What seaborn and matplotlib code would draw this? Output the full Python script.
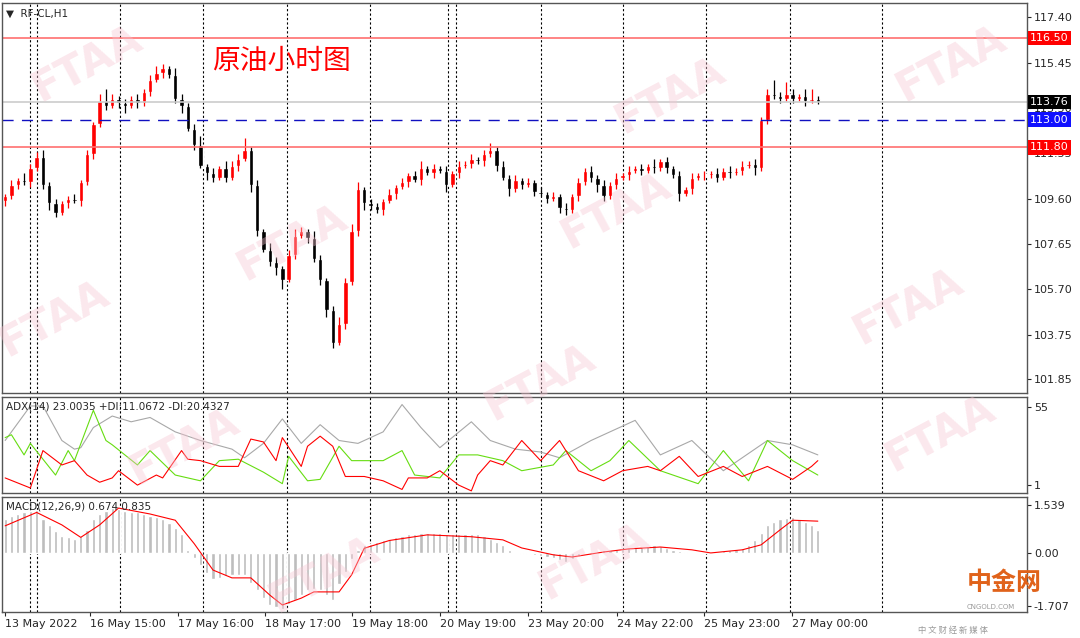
import numpy as np
import pandas as pd
import matplotlib.pyplot as plt
import seaborn as sns

# hourly closes, RF-CL H1
closes = [109.7, 110.2, 110.4, 110.3, 110.9, 111.4, 110.2, 109.4, 109.0, 109.4,
          109.6, 109.5, 110.3, 111.5, 112.8, 113.8, 113.6, 113.9, 113.7, 113.6,
          113.9, 113.7, 114.2, 114.7, 115.0, 115.2, 114.9, 113.9, 113.6, 112.6,
          111.9, 111.0, 110.7, 110.5, 110.9, 110.5, 111.0, 111.3, 111.7, 110.2,
          108.2, 107.4, 106.9, 106.6, 106.1, 107.2, 108.0, 108.2, 107.9, 107.0,
          106.1, 104.8, 103.4, 104.2, 106.0, 108.2, 110.0, 109.4, 109.3, 109.1,
          109.5, 109.8, 110.1, 110.3, 110.6, 110.4, 110.9, 110.7, 110.9, 110.8,
          110.2, 110.7, 111.0, 111.1, 111.3, 111.2, 111.5, 111.7, 111.0, 110.5,
          110.0, 110.4, 110.2, 110.3, 109.9, 109.8, 109.6, 109.7, 109.2, 109.1,
          109.7, 110.3, 110.8, 110.5, 110.2, 109.7, 110.2, 110.5, 110.6, 110.8,
          110.9, 110.8, 111.0, 110.9, 111.2, 110.9, 110.6, 109.8, 110.0, 110.5,
          110.6, 110.6, 110.7, 110.5, 110.8, 110.7, 110.8, 111.0, 111.1, 110.9,
          113.0, 114.1, 114.0, 113.9, 114.1, 113.9, 114.0, 113.8, 113.9, 113.76]
first_open = 109.5
wick_hi = [0.1, 0.2, 0.1, 0.3, 0.2, 0.2, 0.3, 0.1, 0.2, 0.1,
           0.1, 0.2, 0.1, 0.2, 0.1, 0.3, 0.5, 0.2, 0.1, 0.2,
           0.1, 0.2, 0.1, 0.2, 0.3, 0.2, 0.1, 0.3, 0.2, 0.1,
           0.2, 0.4, 0.1, 0.2, 0.1, 0.3, 0.2, 0.2, 0.5, 0.1,
           0.2, 0.1, 0.3, 0.2, 0.1, 0.2, 0.3, 0.2, 0.1, 0.3,
           0.2, 0.1, 0.2, 0.3, 0.2, 0.3, 0.3, 0.1, 0.2, 0.1,
           0.1, 0.2, 0.1, 0.2, 0.1, 0.2, 0.3, 0.1, 0.2, 0.1,
           0.2, 0.1, 0.2, 0.1, 0.2, 0.1, 0.2, 0.3, 0.1, 0.2,
           0.1, 0.2, 0.1, 0.2, 0.1, 0.2, 0.1, 0.2, 0.1, 0.2,
           0.1, 0.2, 0.1, 0.2, 0.1, 0.2, 0.1, 0.2, 0.1, 0.2,
           0.1, 0.2, 0.1, 0.3, 0.1, 0.2, 0.1, 0.2, 0.1, 0.2,
           0.1, 0.2, 0.1, 0.2, 0.1, 0.2, 0.1, 0.2, 0.1, 0.2,
           0.1, 0.2, 0.6, 0.2, 0.5, 0.2, 0.1, 0.3, 0.4, 0.1]
wick_lo = [0.2, 0.1, 0.2, 0.1, 0.2, 0.1, 0.2, 0.3, 0.2, 0.1,
           0.2, 0.1, 0.2, 0.1, 0.2, 0.1, 0.2, 0.1, 0.2, 0.3,
           0.1, 0.2, 0.1, 0.2, 0.1, 0.2, 0.1, 0.2, 0.3, 0.1,
           0.2, 0.1, 0.3, 0.2, 0.1, 0.2, 0.1, 0.2, 0.1, 0.3,
           0.2, 0.1, 0.2, 0.3, 0.4, 0.1, 0.2, 0.1, 0.2, 0.1,
           0.2, 0.3, 0.2, 0.1, 0.2, 0.1, 0.2, 0.3, 0.2, 0.1,
           0.2, 0.1, 0.2, 0.1, 0.2, 0.1, 0.2, 0.1, 0.2, 0.1,
           0.3, 0.1, 0.2, 0.1, 0.2, 0.1, 0.2, 0.1, 0.2, 0.1,
           0.3, 0.1, 0.2, 0.1, 0.2, 0.1, 0.2, 0.1, 0.2, 0.2,
           0.1, 0.2, 0.1, 0.2, 0.3, 0.2, 0.1, 0.2, 0.1, 0.2,
           0.1, 0.2, 0.1, 0.2, 0.1, 0.2, 0.1, 0.3, 0.1, 0.2,
           0.1, 0.2, 0.1, 0.2, 0.1, 0.2, 0.1, 0.2, 0.1, 0.3,
           0.1, 0.2, 0.1, 0.2, 0.1, 0.2, 0.1, 0.2, 0.1, 0.1]

macd_hist = [1.10, 1.20, 1.25, 1.30, 1.35, 1.38, 1.10, 0.90, 0.70, 0.55,
             0.50, 0.45, 0.55, 0.75, 1.10, 1.25, 1.35, 1.45, 1.40, 1.35,
             1.32, 1.30, 1.25, 1.20, 1.15, 1.10, 0.95, 0.80, 0.60, 0.10,
             -0.15, -0.40, -0.65, -0.85, -0.80, -0.75, -0.70, -0.70, -0.70, -0.95,
             -1.20, -1.45, -1.67, -1.75, -1.80, -1.65, -1.50, -1.35, -1.20, -1.15,
             -1.20, -1.35, -1.50, -1.00, -0.60, -0.20, 0.10, 0.25, 0.30, 0.35,
             0.40, 0.45, 0.50, 0.55, 0.60, 0.62, 0.64, 0.65, 0.65, 0.63,
             0.62, 0.60, 0.60, 0.61, 0.60, 0.60, 0.55, 0.45, 0.35, 0.25,
             0.10, 0.00, -0.02, -0.05, -0.08, -0.10, -0.12, -0.15, -0.22, -0.30,
             -0.20, -0.10, -0.05, 0.00, 0.05, 0.08, 0.10, 0.12, 0.14, 0.15,
             0.18, 0.20, 0.22, 0.25, 0.22, 0.15, 0.10, 0.06, 0.03, 0.01,
             0.00, 0.02, 0.03, 0.04, 0.05, 0.08, 0.12, 0.15, 0.25, 0.40,
             0.65, 0.90, 1.00, 1.10, 1.12, 1.15, 1.10, 1.00, 0.90, 0.75]
sig_bar = [0, 5, 9, 12, 15, 18, 23, 27, 30, 33, 36, 39, 42, 44, 47, 49, 53, 55, 57, 61,
           67, 74, 79, 82, 87, 90, 95, 99, 104, 109, 112, 117, 120, 123, 125, 129]
sig_val = [0.87, 1.3, 0.9, 0.5, 0.9, 1.44, 1.25, 1.05, 0.3, -0.55, -0.8, -0.8, -1.35, -1.67,
           -1.45, -1.25, -1.25, -0.7, 0.15, 0.4, 0.58, 0.52, 0.42, 0.16, -0.06, -0.13, 0.03,
           0.13, 0.19, 0.1, 0.0, 0.1, 0.26, 0.74, 1.05, 1.02]

adx_bar = [0, 4, 6, 9, 11, 12, 14, 17, 20, 23, 27, 31, 36, 38, 41, 44, 47, 50, 53, 56,
           60, 63, 66, 69, 74, 77, 81, 85, 88, 93, 100, 104, 109, 114, 121, 125, 129]
adx_val = [32, 56, 56, 32, 26, 27, 41, 49, 45, 48, 38, 32, 26, 20, 30, 47, 30, 43, 32, 30,
           38, 57, 41, 27, 45, 32, 26, 24, 20, 32, 46, 22, 32, 11, 32, 29, 22]
pdi_bar = [0, 1, 3, 4, 6, 8, 10, 11, 14, 16, 17, 21, 23, 27, 31, 34, 37, 41, 44, 45, 48, 50,
           53, 55, 60, 63, 65, 69, 72, 75, 79, 82, 87, 89, 93, 96, 99, 104, 110, 114, 118,
           121, 125, 129]
pdi_val = [34, 36, 22, 30, 19, 8, 25, 18, 53, 32, 29, 15, 25, 8, 4, 18, 19, 10, 2, 21, 4, 5,
           28, 18, 18, 25, 8, 6, 22, 22, 18, 11, 15, 25, 11, 18, 32, 11, 2, 25, 4, 32, 18, 8]
mdi_bar = [0, 4, 6, 9, 11, 13, 15, 17, 18, 21, 24, 25, 28, 29, 31, 34, 37, 39, 41, 43, 44,
           47, 48, 50, 52, 54, 57, 60, 63, 64, 67, 69, 72, 74, 75, 77, 79, 82, 85, 88, 91,
           95, 98, 102, 104, 107, 110, 114, 117, 121, 125, 128, 129]
mdi_val = [6, -1, 25, 15, 18, 8, 3, 6, 11, 1, 8, 6, 25, 19, 18, 14, 14, 33, 31, 18, 34, 14,
           28, 35, 28, 7, 7, 4, -2, 6, 6, 11, 1, -3, 8, 18, 15, 32, 18, 32, 11, 4, 11, 14, 11,
           21, 7, 14, 7, 14, 5, 14, 18]

time_labels = ["13 May 2022", "16 May 15:00", "17 May 16:00", "18 May 17:00", "19 May 18:00",
               "20 May 19:00", "23 May 20:00", "24 May 22:00", "25 May 23:00", "27 May 00:00"]
time_label_bar = [0, 13.5, 27.5, 41.3, 55.1, 69, 83, 97.1, 111, 124.9]
sep_bar = [4.0, 5.1, 18.3, 31.4, 44.8, 57.9, 70.3, 71.6, 85.0, 98.1, 111.3, 124.6, 139.2]
price_ticks = [117.40, 115.45, 113.50, 111.55, 109.60, 107.65, 105.70, 103.75, 101.85]

sns.set_style("white")
plt.rcParams['font.family'] = ['Noto Sans CJK SC', 'DejaVu Sans']

fig = plt.figure(figsize=(10.8, 6.38), dpi=100)
W = 1025 / 1080
ax = fig.add_axes([2 / 1080, 0.384, W, 0.611])
ax2 = fig.add_axes([2 / 1080, 0.227, W, 0.150])
ax3 = fig.add_axes([2 / 1080, 0.041, W, 0.180])
xmin, xmax = -0.5, 162.2

n = len(closes)
idx = np.arange(n)
opens = [first_open] + closes[:-1]
df = pd.DataFrame({"i": idx, "open": opens, "close": closes})
df["high"] = df[["open", "close"]].max(axis=1) + wick_hi
df["low"] = df[["open", "close"]].min(axis=1) - wick_lo
df["up"] = df["close"] >= df["open"]

for a in (ax, ax2, ax3):
    a.set_xlim(xmin, xmax)
    for b in sep_bar:
        a.axvline(b, color="black", ls=(0, (2, 2)), lw=0.8, zorder=0)
    for s in a.spines.values():
        s.set_color("#555555")
        s.set_linewidth(1)
    a.yaxis.tick_right()
    a.tick_params(axis="y", labelsize=8, length=3, right=True, pad=2)
    a.set_xticks([])

# faint watermarks
for (fx, fy) in [(0.08, 0.9), (0.62, 0.85), (0.88, 0.9), (0.27, 0.62),
                 (0.57, 0.67), (0.84, 0.52), (0.05, 0.5), (0.5, 0.4), (0.17, 0.3),
                 (0.87, 0.32), (0.55, 0.12), (0.3, 0.1)]:
    fig.text(fx, fy, "FTAA", fontsize=30, color="#f7c5d2", alpha=0.4, rotation=28,
             ha="center", va="center", fontweight="bold", family="DejaVu Sans", zorder=0)

# main panel
ax.set_ylim(101.25, 118.0)
colors = np.where(df["up"], "red", "black")
ax.vlines(df["i"], df["low"], df["high"], colors=colors, lw=0.9)
ax.bar(df["i"], (df["close"] - df["open"]).abs().clip(lower=0.04),
       bottom=df[["open", "close"]].min(axis=1), width=0.7, color=colors)
ax.axhline(116.50, color="#ff7070", lw=1.2)
ax.axhline(111.80, color="#ff7070", lw=1.2)
ax.axhline(113.76, color="#cccccc", lw=1.2)
ax.axhline(113.00, color="#1010c0", lw=1, ls=(0, (8, 6)))
ax.set_yticks(price_ticks)
ax.set_yticklabels([f"{p:.2f}" for p in price_ticks], family="DejaVu Sans")
for val, bg in [(116.50, "red"), (113.76, "black"), (113.00, "#1010ff"), (111.80, "red")]:
    ax.text(1.003, val, f"{val:.2f}", transform=ax.get_yaxis_transform(), fontsize=8,
            color="white", va="center", ha="left", family="DejaVu Sans", zorder=10,
            bbox=dict(boxstyle="square,pad=0.2", fc=bg, ec="none"))
ax.text(0.004, 0.985, "▼  RF-CL,H1", transform=ax.transAxes, fontsize=7.5, va="top",
        family="DejaVu Sans")
ax.text(0.205, 0.83, "原油小时图", transform=ax.transAxes, fontsize=20, color="red",
        family="Noto Sans CJK SC")

# ADX panel
ax2.set_ylim(-4.6, 61.9)
sns.lineplot(x=adx_bar, y=adx_val, ax=ax2, color="#a8a8a8", lw=0.8)
sns.lineplot(x=pdi_bar, y=pdi_val, ax=ax2, color="#66dd11", lw=0.8)
sns.lineplot(x=mdi_bar, y=mdi_val, ax=ax2, color="red", lw=0.8)
ax2.set_yticks([55, 1])
ax2.set_yticklabels(["55", "1"], family="DejaVu Sans")
ax2.text(0.004, 0.96, "ADX(14) 23.0035 +DI:11.0672 -DI:20.4327", transform=ax2.transAxes,
         fontsize=7.5, va="top", family="DejaVu Sans")

# MACD panel
ax3.set_ylim(-1.89, 1.795)
ax3.bar(idx, macd_hist, width=0.5, color="#bdbdbd")
sns.lineplot(x=sig_bar, y=sig_val, ax=ax3, color="red", lw=0.8)
ax3.set_yticks([1.539, 0.0, -1.707])
ax3.set_yticklabels(["1.539", "0.00", "-1.707"], family="DejaVu Sans")
ax3.text(0.004, 0.96, "MACD(12,26,9) 0.674 0.835", transform=ax3.transAxes,
         fontsize=7.5, va="top", family="DejaVu Sans")
ax3.set_xticks(time_label_bar)
ax3.set_xticklabels(time_labels, fontsize=8, ha="left", family="DejaVu Sans")
ax3.tick_params(axis="x", length=3, bottom=True, pad=2)
for a in (ax, ax2, ax3):
    a.set_ylabel("")
    a.set_xlabel("")

fig.text(0.895, 0.075, "中金网", fontsize=18, color="#e0621a", fontweight="bold",
         family="Noto Sans CJK SC", ha="left")
fig.text(0.895, 0.045, "CNGOLD.COM", fontsize=5, color="#999999",
         family="DejaVu Sans", ha="left")
fig.text(0.85, 0.008, "中 文 财 经 新 媒 体", fontsize=6, color="#999999",
         family="Noto Sans CJK SC", ha="left")

fig.savefig("out.png", dpi=100)
